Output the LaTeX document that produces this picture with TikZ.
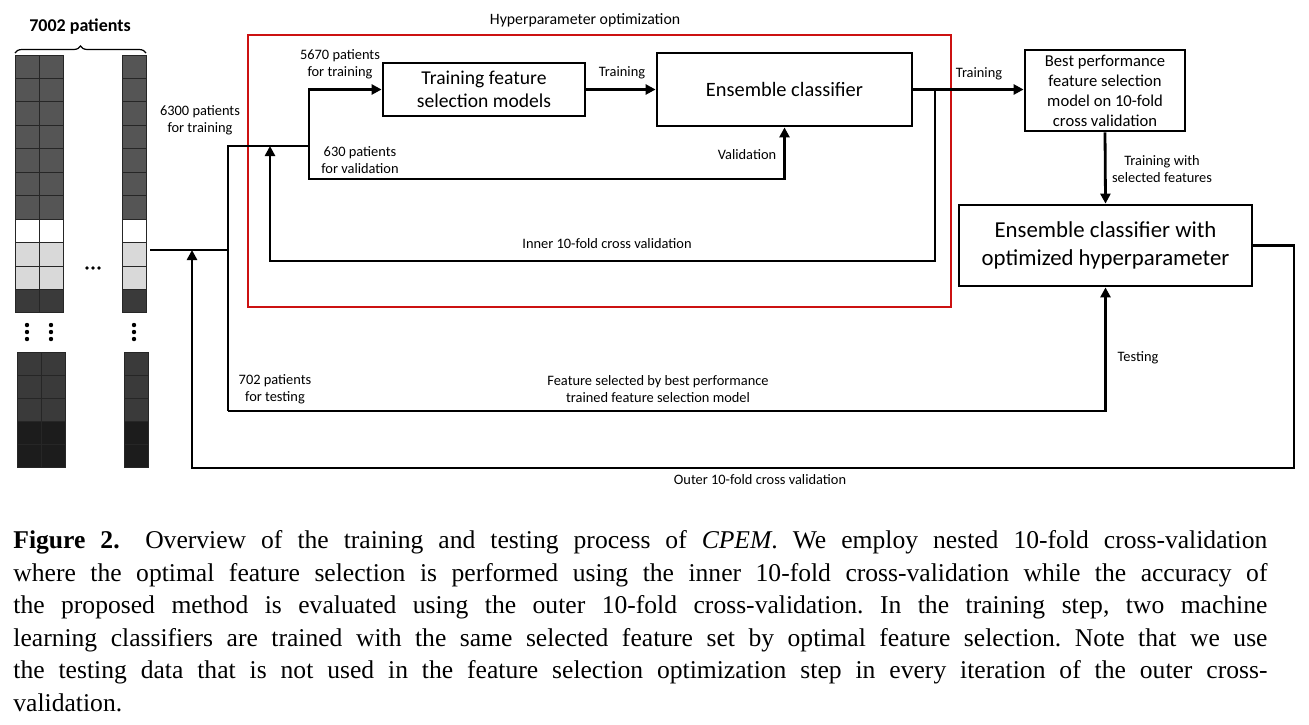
\documentclass[tikz,border=0pt]{standalone}
\usepackage{fontspec}
\setmainfont{Liberation Serif}
\newfontfamily\diafont{Carlito}
\usetikzlibrary{arrows.meta,decorations.pathreplacing}
\definecolor{celldark}{HTML}{555555}
\definecolor{celllight}{HTML}{D9D9D9}
\definecolor{celldeep}{HTML}{3A3A3A}
\definecolor{cellblack}{HTML}{1C1C1C}
\definecolor{hyperred}{HTML}{CC1111}
\begin{document}
\begin{tikzpicture}[x=0.5pt,y=-0.5pt,line width=1.4pt,>={Triangle[length=5pt,width=5pt]},
    box/.style={draw,line width=1.4pt,inner sep=0pt,align=center},
    lbl/.style={inner sep=0pt,align=center,font=\diafont\fontsize{7.2}{8.5}\selectfont},
    cell/.style={draw=black!85,line width=0.5pt}]
    \useasboundingbox (0,0) rectangle (1309,724);
    \fill[white] (0,0) rectangle (1309,724);

    % Celle dei pazienti
    \foreach \c [count=\i from 0] in {celldark,celldark,celldark,celldark,celldark,celldark,celldark,white,celllight,celllight,celldeep}
        \foreach \x in {15,39,122}
            \filldraw[cell,fill=\c] (\x,55+\i*23.45) rectangle ++(24,23.45);
    \foreach \c [count=\i from 0] in {celldeep,celldeep,celldeep,cellblack,cellblack}
        \foreach \x in {17,41,124}
            \filldraw[cell,fill=\c] (\x,352+\i*23) rectangle ++(24,23);
    \foreach \x in {27,51,134}
        \foreach \y in {325,332,339}
            \fill (\x,\y) circle (1.1pt);
    \foreach \x in {87,93,99}
        \fill (\x,268) circle (0.9pt);
    \draw[decorate,decoration={brace,amplitude=3.5pt},line width=0.6pt] (15,53) -- (146,53);
    \node[font=\diafont\bfseries\fontsize{9}{10}\selectfont,inner sep=0pt] (total) at (80,27) {7002 patients};

    % Riquadro rosso
    \draw[hyperred,line width=1pt] (248,35) rectangle (951,307);
    \node[lbl,font=\diafont\fontsize{7.9}{9}\selectfont] (hyperlbl) at (585,20) {Hyperparameter optimization};

    % Blocchi
    \node[box,minimum width=101pt,minimum height=26.5pt,font=\diafont\fontsize{9.8}{11.5}\selectfont] (tfs) at (484,89.5) {Training feature\\selection models};
    \node[box,minimum width=127.5pt,minimum height=36.5pt,font=\diafont\fontsize{10.2}{11.5}\selectfont] (ens) at (784.5,89.5) {Ensemble classifier};
    \node[box,minimum width=80pt,minimum height=40.5pt,font=\diafont\fontsize{8.3}{10}\selectfont] (best) at (1105,90.5) {Best performance\\feature selection\\model on 10-fold\\cross validation};
    \node[box,minimum width=146.5pt,minimum height=40.5pt,font=\diafont\fontsize{11.4}{14}\selectfont] (ehyp) at (1105.5,245.5) {Ensemble classifier with\\optimized hyperparameter};

    % Punti di snodo
    \coordinate (datout) at (150,250);
    \coordinate (split) at (228,250);
    \coordinate (inA) at (228,146);
    \coordinate (inB) at (309,146);
    \coordinate (inVa) at (309,179);
    \coordinate (innerTop) at (935,89.5);
    \coordinate (innerBot) at (270,261);
    \coordinate (inArr) at (270,146);
    \coordinate (testL) at (228,411);
    \coordinate (outR) at (1294,468);
    \coordinate (outL) at (192,468);
    \coordinate (outArr) at (192,250);

    \draw (datout) -- (split);
    \draw (testL) |- (inB);
    \draw[->] (inB) |- (tfs.west);
    \draw[->] (inB) -- (inVa) -| (ens.south);
    \draw[->] (tfs.east) -- (tfs.east -| ens.west);
    \draw[->] (ens.east) -- (ens.east -| best.west);
    \draw[->] (innerTop) |- (innerBot) -- (inArr);
    \draw[->] (best.south) -- (ehyp.north);
    \draw[->] (testL) -| (ehyp.south);
    \draw[->] (ehyp.east) -| (outR) -- (outL) -- (outArr);

    % Etichette
    \node[lbl] (l6300) at (200,120) {6300 patients\\for training};
    \node[lbl] (l5670) at (340,64.5) {5670 patients\\for training};
    \node[lbl] (l630) at (360,160) {630 patients\\for validation};
    \node[lbl] (ltrain) at (622,73) {Training};
    \node[lbl] (lval) at (747,155) {Validation};
    \node[lbl] (ltrainb) at (979,74) {Training};
    \node[lbl] (lsel) at (1162,169.5) {Training with\\selected features};
    \node[lbl] (linner) at (607,244) {Inner 10-fold cross validation};
    \node[lbl] (l702) at (275,389) {702 patients\\for testing};
    \node[lbl] (lfeat) at (658,389.5) {Feature selected by best performance\\trained feature selection model};
    \node[lbl] (ltest) at (1138,358) {Testing};
    \node[lbl] (louter) at (760,480) {Outer 10-fold cross validation};

    % Didascalia
    \node[anchor=north west,inner sep=0pt,text width=627pt,align=justify,font=\fontsize{12.8}{16.3}\selectfont\frenchspacing] (caption) at (12,529) {\textbf{Figure 2.}\quad Overview of the training and testing process of \textit{CPEM}. We employ nested 10-fold cross-validation\linebreak where the optimal feature selection is performed using the inner 10-fold cross-validation while the accuracy of\linebreak the proposed method is evaluated using the outer 10-fold cross-validation. In the training step, two machine\linebreak learning classifiers are trained with the same selected feature set by optimal feature selection. Note that we use\linebreak the testing data that is not used in the feature selection optimization step in every iteration of the outer cross-\linebreak validation.};
\end{tikzpicture}
\end{document}
